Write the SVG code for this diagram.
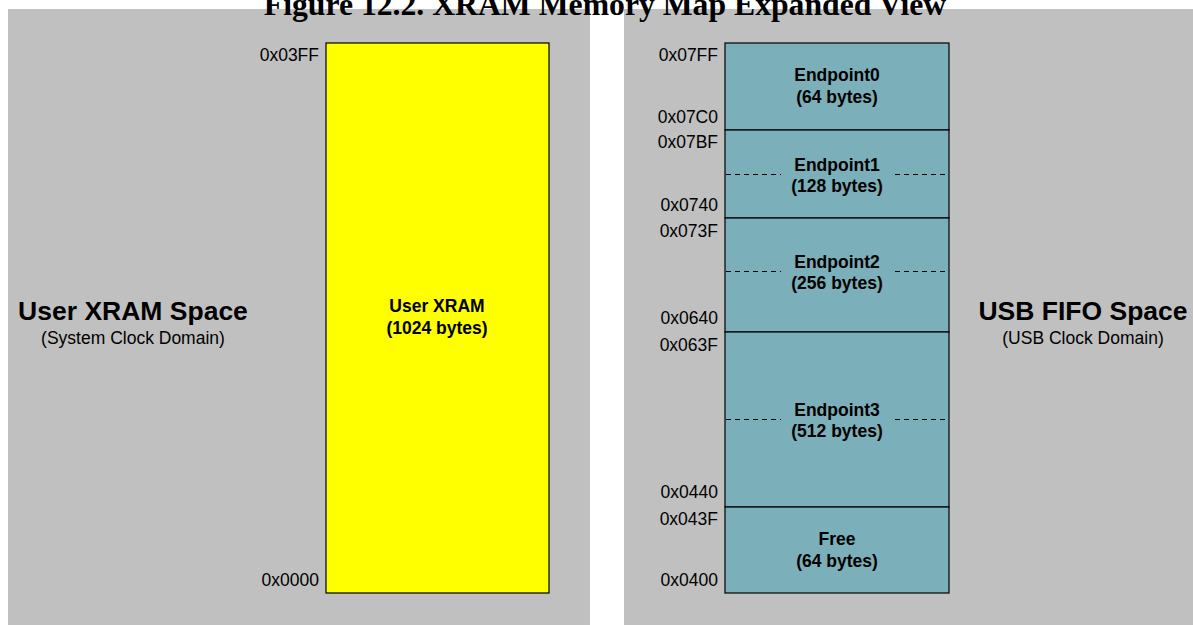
<svg xmlns="http://www.w3.org/2000/svg" width="1193" height="625" viewBox="0 0 1193 625">
<style>
.panel{fill:#c0c0c0}
.mem{stroke:#000;stroke-width:1.2}
.teal{fill:#7bafb9}
.addr{font-family:"Liberation Sans",Arial,sans-serif;font-size:17.5px;fill:#000;text-anchor:end}
.lbl{font-family:"Liberation Sans",Arial,sans-serif;font-size:17.5px;font-weight:bold;fill:#000;text-anchor:middle}
.big{font-family:"Liberation Sans",Arial,sans-serif;font-size:26.5px;font-weight:bold;fill:#000;text-anchor:middle}
.sub{font-family:"Liberation Sans",Arial,sans-serif;font-size:17.5px;fill:#000;text-anchor:middle}
.dash{stroke:#000;stroke-width:1;stroke-dasharray:5 4;fill:none}
</style>
<rect x="0" y="0" width="1193" height="625" fill="#fff"/>
<g id="panel-left">
<rect class="panel" x="8" y="9" width="582" height="616"/>
<text class="big" x="133" y="320">User XRAM Space</text>
<text class="sub" x="133" y="344">(System Clock Domain)</text>
</g>
<g id="panel-right">
<rect class="panel" x="624" y="9" width="569" height="616"/>
<text class="big" x="1083" y="320">USB FIFO Space</text>
<text class="sub" x="1083" y="344">(USB Clock Domain)</text>
</g>
<g id="user-xram">
<rect class="mem" x="326" y="43" width="223" height="550" fill="#ffff00"/>
<text class="lbl" x="437" y="312">User XRAM</text>
<text class="lbl" x="437" y="334">(1024 bytes)</text>
<text class="addr" x="319" y="61">0x03FF</text>
<text class="addr" x="319" y="586">0x0000</text>
</g>
<g id="endpoint0">
<rect class="mem teal" x="725" y="43" width="224" height="87"/>
<text class="lbl" x="837" y="81">Endpoint0</text>
<text class="lbl" x="837" y="103">(64 bytes)</text>
<text class="addr" x="718" y="61">0x07FF</text>
<text class="addr" x="718" y="123">0x07C0</text>
</g>
<g id="endpoint1">
<rect class="mem teal" x="725" y="130" width="224" height="88"/>
<text class="lbl" x="837" y="171">Endpoint1</text>
<text class="lbl" x="837" y="192">(128 bytes)</text>
<text class="addr" x="718" y="148">0x07BF</text>
<text class="addr" x="718" y="211">0x0740</text>
</g>
<g id="endpoint2">
<rect class="mem teal" x="725" y="218" width="224" height="114"/>
<text class="lbl" x="837" y="268">Endpoint2</text>
<text class="lbl" x="837" y="289">(256 bytes)</text>
<text class="addr" x="718" y="237">0x073F</text>
<text class="addr" x="718" y="324">0x0640</text>
</g>
<g id="endpoint3">
<rect class="mem teal" x="725" y="332" width="224" height="175"/>
<text class="lbl" x="837" y="416">Endpoint3</text>
<text class="lbl" x="837" y="437">(512 bytes)</text>
<text class="addr" x="718" y="351">0x063F</text>
<text class="addr" x="718" y="498">0x0440</text>
</g>
<g id="free">
<rect class="mem teal" x="725" y="507" width="224" height="86"/>
<text class="lbl" x="837" y="545">Free</text>
<text class="lbl" x="837" y="567">(64 bytes)</text>
<text class="addr" x="718" y="525">0x043F</text>
<text class="addr" x="718" y="586">0x0400</text>
</g>
<g id="connectors">
<path class="dash" d="M726 174.5H781M895 174.5H948"/>
<path class="dash" d="M726 271.5H781M895 271.5H948"/>
<path class="dash" d="M726 419.5H781M895 419.5H948"/>
</g>
<text x="605" y="15" font-family="'Liberation Serif','Times New Roman',serif" font-size="31.7" font-weight="bold" text-anchor="middle" fill="#000">Figure 12.2. XRAM Memory Map Expanded View</text>
</svg>
